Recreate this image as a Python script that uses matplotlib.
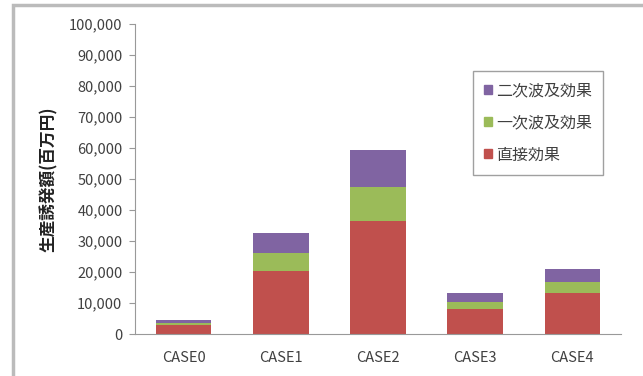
import matplotlib.pyplot as plt
from matplotlib.patches import Rectangle, Patch
from matplotlib.ticker import FuncFormatter

plt.rcParams['font.family'] = ['Noto Sans CJK JP', 'DejaVu Sans']

# データ
cases = ['CASE0', 'CASE1', 'CASE2', 'CASE3', 'CASE4']
direct = [3000, 20400, 36500, 8000, 13100]      # 直接効果
first = [600, 5800, 11000, 2400, 3800]          # 一次波及効果
second = [800, 6500, 11900, 2700, 4200]         # 二次波及効果
y_ticks = list(range(0, 100001, 10000))

red = '#C0504D'
green = '#9BBB59'
purple = '#8064A2'
txt = '#404040'

fig = plt.figure(figsize=(6.43, 3.76), dpi=100)
ax = fig.add_axes([135 / 643, 42 / 376, 486 / 643, 310 / 376])

x = range(len(cases))
w = 0.57
bottom2 = [d + f for d, f in zip(direct, first)]
ax.bar(x, direct, w, color=red)
ax.bar(x, first, w, bottom=direct, color=green)
ax.bar(x, second, w, bottom=bottom2, color=purple)

ax.set_xlim(-0.5, len(cases) - 0.5)
ax.set_ylim(0, 100000)
ax.set_yticks(y_ticks)
ax.yaxis.set_major_formatter(FuncFormatter(lambda v, p: '{:,}'.format(int(v))))
ax.set_xticks(list(x))
ax.set_xticklabels(cases)
ax.tick_params(axis='y', length=4, color='#999999', labelcolor=txt, labelsize=10.5, pad=5)
ax.tick_params(axis='x', length=0, labelcolor=txt, labelsize=10.5, pad=12)

for s in ['top', 'right']:
    ax.spines[s].set_visible(False)
for s in ['left', 'bottom']:
    ax.spines[s].set_color('#999999')

ax.set_ylabel('生産誘発額(百万円)', fontsize=12, fontweight='bold', color='#222222', labelpad=8)

handles = [Patch(color=purple), Patch(color=green), Patch(color=red)]
labels = ['二次波及効果', '一次波及効果', '直接効果']
leg = ax.legend(handles, labels, loc='upper left', bbox_to_anchor=(338 / 486, 1 - 47 / 310),
                fontsize=11.5, frameon=True, fancybox=False, handlelength=0.5, handleheight=0.5,
                handletextpad=0.25, labelspacing=0.95, borderpad=0.7, borderaxespad=0,
                labelcolor=txt)
leg.get_frame().set_edgecolor('#888888')
leg.get_frame().set_linewidth(1.0)

# 外枠
fig.patches.append(Rectangle((13 / 643, -0.05), 1.0, 1 - 5 / 376 + 0.05, transform=fig.transFigure,
                             fill=False, edgecolor='#BBBBBB', linewidth=2.5))

fig.savefig('out.png', dpi=100)
